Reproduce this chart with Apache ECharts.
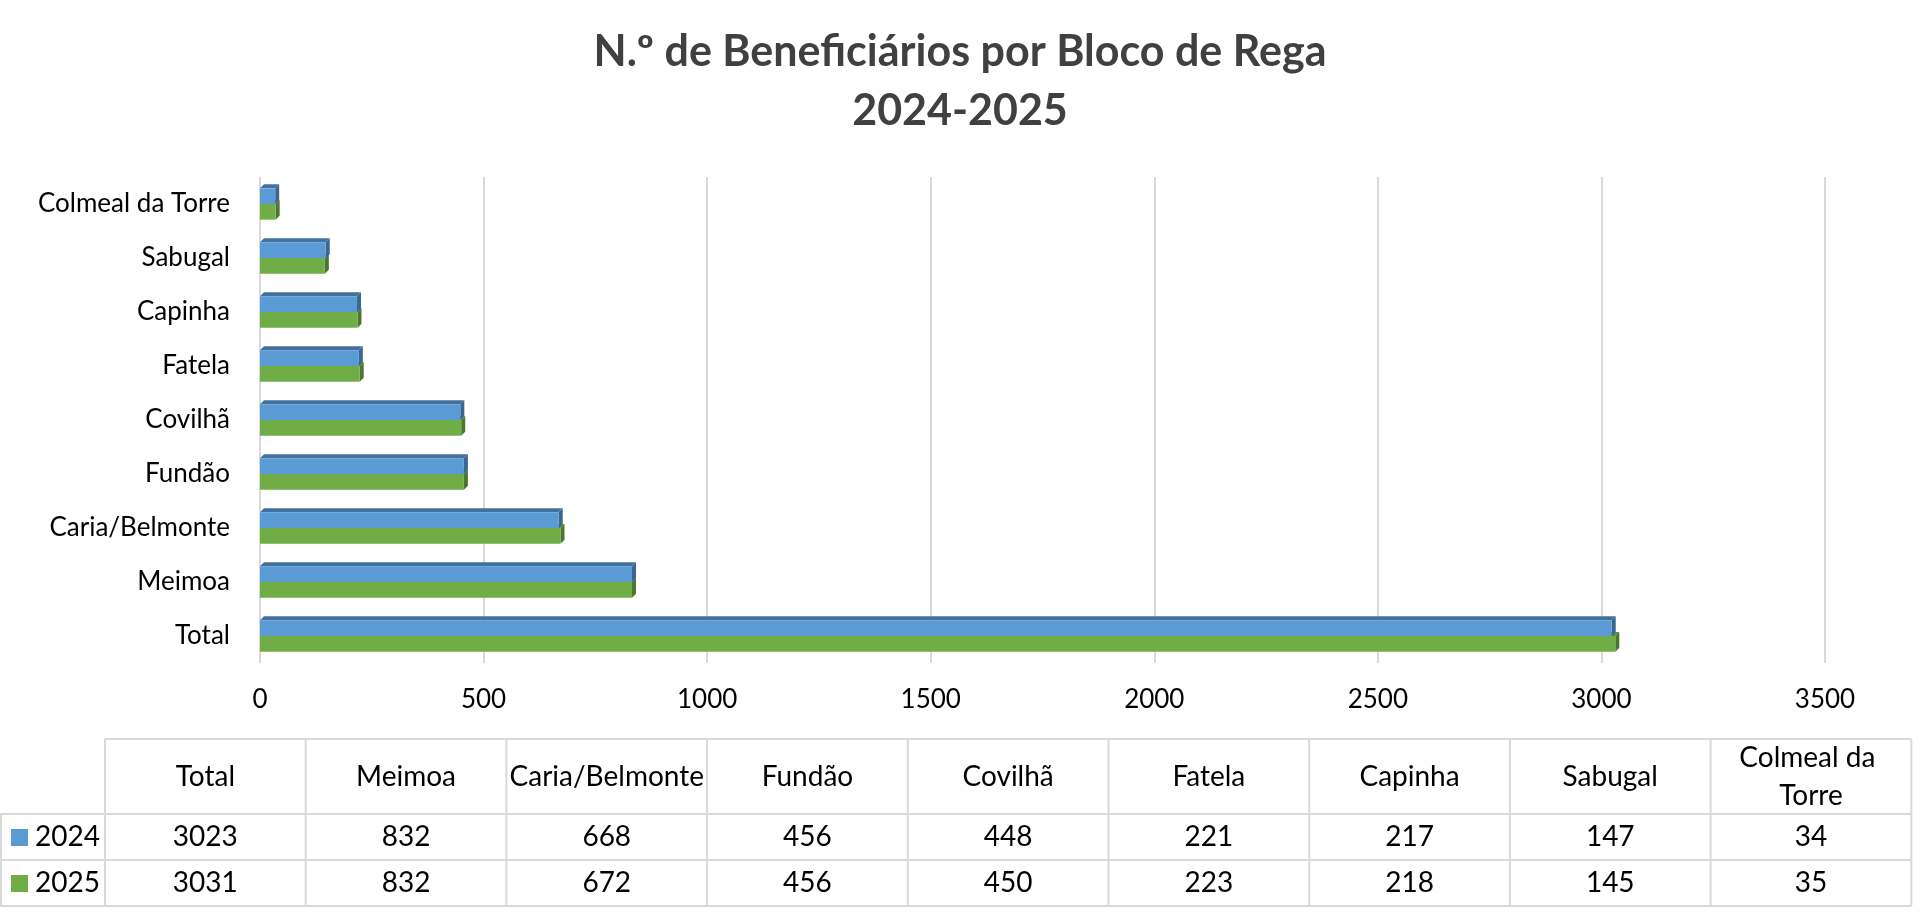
<!DOCTYPE html>
<html>
<head>
<meta charset="utf-8">
<title>Beneficiários por Bloco de Rega</title>
<script src="https://cdn.jsdelivr.net/npm/echarts@6/dist/echarts.min.js"></script>
<style>
  html, body { margin: 0; padding: 0; background: #fff; }
  #chart { width: 1920px; height: 922px; }
</style>
</head>
<body>
<div id="chart"></div>
<script>
// categorias (de baixo para cima no gráfico, esquerda para direita na tabela)
var blocos = ['Total', 'Meimoa', 'Caria/Belmonte', 'Fundão', 'Covilhã', 'Fatela', 'Capinha', 'Sabugal', 'Colmeal da Torre'];
var anos = ['2024', '2025'];
var valores2024 = [3023, 832, 668, 456, 448, 221, 217, 147, 34];
var valores2025 = [3031, 832, 672, 456, 450, 223, 218, 145, 35];
var xTicks = [0, 500, 1000, 1500, 2000, 2500, 3000, 3500];

var fonte = 'Lato, "Noto Sans", sans-serif';

// cores: frente, topo, lado
var cor2024 = ['#5b9bd5', '#41719c', '#3a6690'];
var cor2025 = ['#70ad47', '#5a8c39', '#4b7530'];

// barra com efeito 3D (frente + topo + lado)
function barra3d(emCima, cores) {
    return function (params, api) {
        var v = api.value(0);
        var ci = api.value(1);
        var ini = api.coord([0, ci]);
        var fim = api.coord([v, ci]);
        var banda = api.size([0, 1])[1];
        var h = banda * 0.29;
        var y0 = emCima ? ini[1] - h : ini[1];
        var x0 = ini[0], x1 = fim[0];
        var d = 4;
        return {
            type: 'group',
            children: [{
                type: 'polygon',
                shape: { points: [[x0, y0], [x0 + d, y0 - d], [x1 + d, y0 - d], [x1, y0]] },
                style: { fill: cores[1] }
            }, {
                type: 'polygon',
                shape: { points: [[x1, y0], [x1 + d, y0 - d], [x1 + d, y0 + h - d], [x1, y0 + h]] },
                style: { fill: cores[2] }
            }, {
                type: 'rect',
                shape: { x: x0, y: y0, width: x1 - x0, height: h },
                style: { fill: cores[0] }
            }]
        };
    };
}

function paraPontos(vals) {
    var out = [];
    for (var i = 0; i < vals.length; i++) {
        out.push([vals[i], i]);
    }
    return out;
}

// tabela de dados por baixo do gráfico
function tabela() {
    var els = [];
    var x0 = 105, colW = 200.7;
    var yTop = 739, yHead = 814, yR1 = 860, yR2 = 906;
    var xEnd = x0 + colW * blocos.length;
    var linha = { stroke: '#d9d9d9', lineWidth: 2 };
    var f = '28px ' + fonte;

    els.push({ type: 'line', shape: { x1: x0, y1: yTop, x2: xEnd, y2: yTop }, style: linha });
    [yHead, yR1, yR2].forEach(function (y) {
        els.push({ type: 'line', shape: { x1: 0, y1: y, x2: xEnd, y2: y }, style: linha });
    });
    els.push({ type: 'line', shape: { x1: 1, y1: yHead, x2: 1, y2: yR2 }, style: linha });
    for (var i = 0; i <= blocos.length; i++) {
        var x = x0 + colW * i;
        els.push({ type: 'line', shape: { x1: x, y1: yTop, x2: x, y2: yR2 }, style: linha });
    }

    var linhas = [valores2024, valores2025];
    var cores = [cor2024[0], cor2025[0]];
    var centros = [(yHead + yR1) / 2, (yR1 + yR2) / 2];

    for (var c = 0; c < blocos.length; c++) {
        var cx = x0 + colW * c + colW / 2;
        els.push({
            type: 'text',
            x: cx, y: (yTop + yHead) / 2,
            style: {
                text: blocos[c], width: colW - 2, overflow: 'break',
                font: f, fill: '#000', lineHeight: 38,
                align: 'center', verticalAlign: 'middle'
            }
        });
        for (var r = 0; r < linhas.length; r++) {
            els.push({
                type: 'text',
                x: cx, y: centros[r],
                style: {
                    text: String(linhas[r][c]), font: f, fill: '#000',
                    align: 'center', verticalAlign: 'middle'
                }
            });
        }
    }
    for (var k = 0; k < anos.length; k++) {
        els.push({
            type: 'rect',
            shape: { x: 11, y: centros[k] - 8, width: 17, height: 17 },
            style: { fill: cores[k] }
        });
        els.push({
            type: 'text',
            x: 35, y: centros[k],
            style: {
                text: anos[k], font: f, fill: '#000',
                align: 'left', verticalAlign: 'middle'
            }
        });
    }
    return els;
}

function desenhar() {
    var myChart = echarts.init(document.getElementById('chart'));
    var option = {
        backgroundColor: '#fff',
        animation: false,
        title: {
            text: 'N.º de Beneficiários por Bloco de Rega\n2024-2025',
            left: 'center',
            top: 18,
            textStyle: {
                fontFamily: fonte,
                fontSize: 43,
                fontWeight: 'bold',
                color: '#404040',
                lineHeight: 59
            }
        },
        grid: {
            left: 260,
            right: 95,
            top: 177,
            bottom: 259,
            containLabel: false
        },
        xAxis: {
            type: 'value',
            min: xTicks[0],
            max: xTicks[xTicks.length - 1],
            interval: 500,
            axisLine: { show: false },
            axisTick: { show: false },
            splitLine: { show: true, lineStyle: { color: '#d9d9d9', width: 2 } },
            axisLabel: {
                margin: 24,
                fontFamily: fonte,
                fontSize: 26,
                color: '#000',
                formatter: function (v) { return String(v); }
            }
        },
        yAxis: {
            type: 'category',
            data: blocos,
            axisLine: { show: false },
            axisTick: { show: false },
            axisLabel: {
                margin: 30,
                fontFamily: fonte,
                fontSize: 26,
                color: '#000'
            }
        },
        series: [{
            name: anos[1],
            type: 'custom',
            renderItem: barra3d(false, cor2025),
            encode: { x: 0, y: 1 },
            data: paraPontos(valores2025),
            z: 2
        }, {
            name: anos[0],
            type: 'custom',
            renderItem: barra3d(true, cor2024),
            encode: { x: 0, y: 1 },
            data: paraPontos(valores2024),
            z: 3
        }],
        graphic: tabela()
    };
    myChart.setOption(option);
}

desenhar();
</script>
</body>
</html>
